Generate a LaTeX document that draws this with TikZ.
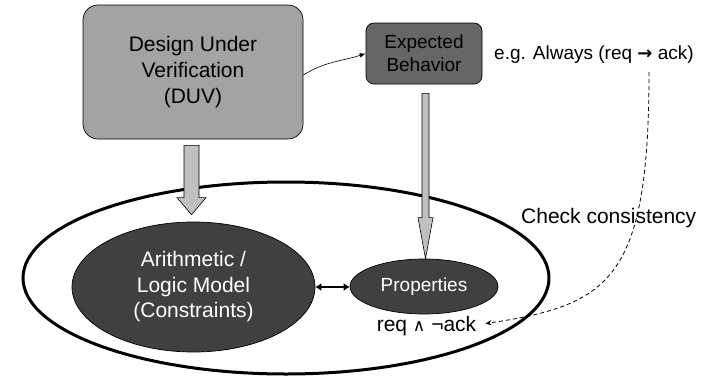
\documentclass[tikz,border=0pt]{standalone}
\usepackage{fontspec}
\setmainfont{Liberation Sans}
\newfontfamily\dejavu{DejaVu Sans}
\usetikzlibrary{arrows.meta,shapes.geometric,calc}
\definecolor{duvgray}{RGB}{163,163,163}
\definecolor{expgray}{RGB}{102,102,102}
\definecolor{darkfill}{RGB}{64,64,64}
\definecolor{blkgray}{RGB}{192,192,192}
\begin{document}
\begin{tikzpicture}[x=1pt,y=1pt,
  boxnode/.style={draw=black, line width=0.7pt, align=center, inner sep=0pt},
  darkell/.style={ellipse, draw=black, line width=0.7pt, fill=darkfill, text=white, align=center, inner sep=0pt},
  txt/.style={inner sep=0pt, font=\fontsize{19}{23}\selectfont},
  blk/.style={draw=black, line width=0.6pt, fill=blkgray},
  thinarrow/.style={line width=0.6pt, -{Latex[length=6pt,width=4.5pt]}},
  dblarrow/.style={line width=2.2pt, {Latex[length=6pt,width=8pt]}-{Latex[length=6pt,width=8pt]}},
  dasharrow/.style={line width=0.8pt, dash pattern=on 4pt off 3pt, -{Stealth[length=6pt,width=5pt]}}
]
\useasboundingbox (0,0) rectangle (713,-378);

% outer ellipse
\node[ellipse, draw=black, line width=3pt, minimum width=526pt, minimum height=192pt, inner sep=0pt] (outer) at (286,-278) {};

% DUV box
\node[boxnode, fill=duvgray, rounded corners=15pt, minimum width=220pt, minimum height=134pt,
      font=\fontsize{21}{26}\selectfont] (duv) at (193,-72) {Design Under\\Verification\\(DUV)};

% Expected behavior box
\node[boxnode, fill=expgray, rounded corners=8pt, minimum width=116pt, minimum height=61pt,
      font=\fontsize{19}{23}\selectfont] (exp) at (424,-53.5) {Expected\\Behavior};

% inner ellipses
\node[darkell, minimum width=243pt, minimum height=130pt, font=\fontsize{21}{25.5}\selectfont]
  (arith) at (193.5,-287) {Arithmetic /\\Logic Model\\(Constraints)};
\node[darkell, minimum width=148pt, minimum height=55pt, font=\fontsize{19}{23}\selectfont]
  (prop) at (424,-286.5) {Properties};

% texts
\node[txt, anchor=base west] (eg) at (494,-59) {e.g. Always (req {\dejavu\bfseries\fontsize{18}{20}\selectfont →} ack)};
\node[txt, anchor=base west, font=\fontsize{21}{25}\selectfont] (check) at (521,-223) {Check consistency};
\node[txt, anchor=base, font=\fontsize{21}{25}\selectfont] (req) at (426.5,-331) {req {\dejavu\fontsize{17}{20}\selectfont ∧} ¬ack};

% block arrows
\coordinate (a1top) at ($(duv.south)+(-1.5,-6)$);
\coordinate (a1tip) at ($(arith.north)+(-2,7)$);
\draw[blk] let \p1=(a1top), \p2=(a1tip) in
  (\x1-7.5,\y1) -- (\x1+7.5,\y1) -- (\x1+7.5,\y2+17) -- (\x1+14.5,\y2+17) -- (\x1,\y2)
  -- (\x1-14.5,\y2+17) -- (\x1-7.5,\y2+17) -- cycle;

\coordinate (a2top) at ($(exp.south)+(1.5,-9)$);
\coordinate (a2tip) at ($(prop.north)+(1.5,0)$);
\draw[blk] let \p1=(a2top), \p2=(a2tip) in
  (\x1-3.5,\y1) -- (\x1+3.5,\y1) -- (\x1+3.5,\y2+41) -- (\x1+7.5,\y2+41) -- (\x1,\y2)
  -- (\x1-7.5,\y2+41) -- (\x1-3.5,\y2+41) -- cycle;

% connectors
\draw[thinarrow] ($(duv.east)+(0,-3)$) to[out=32, in=198] (exp.west);
\draw[dblarrow] (arith.east) -- (arith.east -| prop.west);
\coordinate (ds) at (649,-72);
\draw[dasharrow] (ds) .. controls (649,-280) and (610,-305) .. ([xshift=9pt,yshift=2pt]req.east);
\end{tikzpicture}
\end{document}
